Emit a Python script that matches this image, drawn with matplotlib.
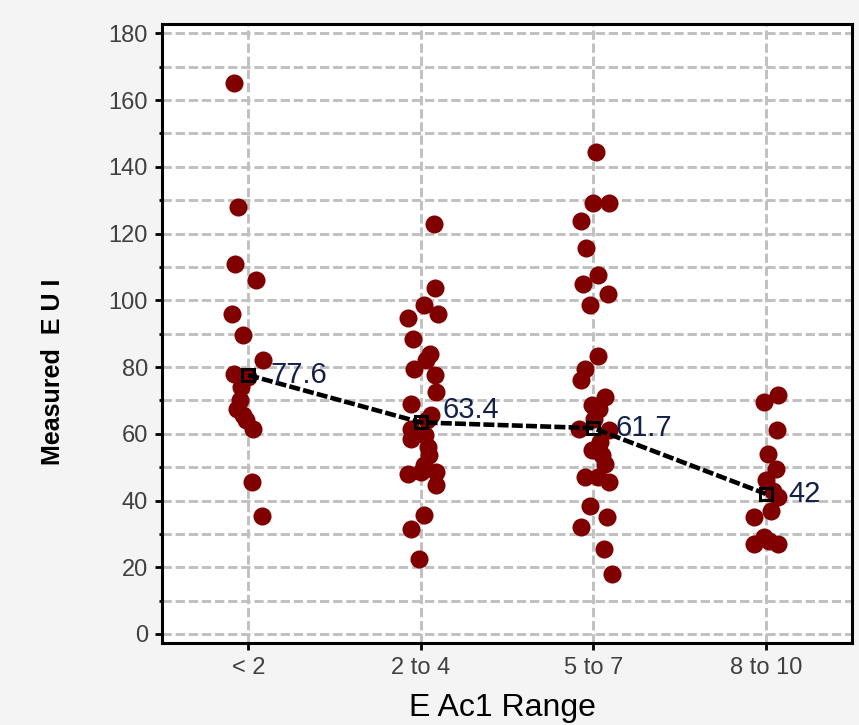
import numpy as np
import matplotlib
matplotlib.use("Agg")
import matplotlib.pyplot as plt
from matplotlib.ticker import MultipleLocator

plt.rcParams["font.family"] = ["Liberation Sans", "DejaVu Sans"]

# categories on the x axis
categories = ["< 2", "2 to 4", "5 to 7", "8 to 10"]

# measured EUI per category, with the horizontal jitter (category units)
eui_lt2 = [165, 128, 111, 106, 96, 89.5, 82, 78, 77, 74, 70, 67.5, 65.5, 64, 61.5, 45.5, 35.5]
jit_lt2 = [-0.08, -0.06, -0.075, 0.047, -0.093, -0.03, 0.087, -0.08, 0.0, -0.04, -0.047,
           -0.064, -0.03, -0.012, 0.03, 0.023, 0.08]

eui_2to4 = [123, 103.6, 98.5, 95.8, 94.6, 88.3, 84, 82, 79.5, 77.5, 72.6, 69, 65.5, 64,
            61.5, 59.5, 58.5, 56, 53.6, 50.5, 48.5, 48.5, 48, 44.6, 35.8, 31.4, 22.5]
jit_2to4 = [0.076, 0.081, 0.017, 0.099, -0.076, -0.047, 0.052, 0.029, -0.041, 0.081, 0.087,
            -0.058, 0.058, 0.035, -0.058, 0.023, -0.058, 0.041, 0.047, 0.017, 0.0, 0.087,
            -0.076, 0.087, 0.017, -0.058, -0.012]

eui_5to7 = [144.3, 129.2, 129.2, 123.8, 115.7, 107.5, 104.8, 102, 98.5, 83.4, 79.5, 76.2,
            71, 68.7, 67.5, 64.5, 61.4, 61, 57.5, 55, 53.6, 51, 47, 47, 45.5, 38.5, 35,
            32, 25.5, 18]
jit_5to7 = [0.017, 0.0, 0.093, -0.07, -0.041, 0.029, -0.058, 0.087, -0.017, 0.029, -0.047,
            -0.07, 0.07, -0.006, 0.035, 0.006, -0.081, 0.093, 0.04, -0.006, 0.052, 0.07,
            -0.047, 0.029, 0.093, -0.017, 0.081, -0.07, 0.064, 0.11]

eui_8to10 = [71.7, 69.6, 61, 54, 49.5, 46, 43, 41, 37, 35, 29, 28, 27, 27]
jit_8to10 = [0.07, -0.012, 0.064, 0.012, 0.058, 0.0, 0.04, 0.07, 0.029, -0.07, -0.012,
             0.018, -0.07, 0.07]

# category means as labelled on the chart
means = [77.6, 63.4, 61.7, 42]
mean_labels = ["77.6", "63.4", "61.7", "42"]

groups = [(eui_lt2, jit_lt2), (eui_2to4, jit_2to4), (eui_5to7, jit_5to7), (eui_8to10, jit_8to10)]

fig = plt.figure(figsize=(8.59, 7.25), dpi=100, facecolor="#f4f4f4")
ax = fig.add_axes([162 / 859, 1 - 643 / 725, 690 / 859, 619 / 725])
ax.set_facecolor("white")

xpos = np.arange(len(categories))

for i, (vals, jit) in enumerate(groups):
    ax.plot(xpos[i] + np.array(jit), vals, "o", color="#800000", ms=13, mew=0,
            linestyle="none", zorder=3)

ax.plot(xpos, means, color="black", lw=3.3, linestyle=(0, (2.4, 0.7)),
        marker="s", ms=8, mfc="none", mec="black", mew=2.2, zorder=4)

label_dy = [0, 9, 0, 0]
for x, m, lab, dy in zip(xpos, means, mean_labels, label_dy):
    ax.annotate(lab, (x, m), xytext=(16, dy), textcoords="offset points",
                ha="left", va="center", fontsize=21, color="#14204a", zorder=5)

ax.set_xlim(-0.5, 3.5)
ax.set_ylim(-2.7, 182.8)
ax.set_xticks(xpos)
ax.set_xticklabels(categories)
ax.yaxis.set_major_locator(MultipleLocator(20))
ax.yaxis.set_minor_locator(MultipleLocator(10))

grid_style = dict(color="#c0c0c0", lw=2.1, linestyle=(0, (3.2, 1.3)))
ax.grid(True, which="both", axis="y", **grid_style)
ax.grid(True, which="major", axis="x", **grid_style)
ax.set_axisbelow(True)

for sp in ax.spines.values():
    sp.set_color("black")
    sp.set_linewidth(2.2)

ax.tick_params(axis="both", which="major", direction="out", length=5, width=2,
               labelsize=17, labelcolor="#404040", pad=5)
ax.tick_params(axis="y", which="minor", direction="out", length=2.5, width=2)

ax.set_xlabel("E Ac1 Range", fontsize=23, color="black", va="center")
ax.xaxis.set_label_coords(0.494, -0.105)
ax.set_ylabel("Measured  E U I", fontsize=18, fontweight="bold", color="black", va="center")
ax.yaxis.set_label_coords(-0.158, 0.438)

fig.savefig("out.png", dpi=100, facecolor=fig.get_facecolor())
